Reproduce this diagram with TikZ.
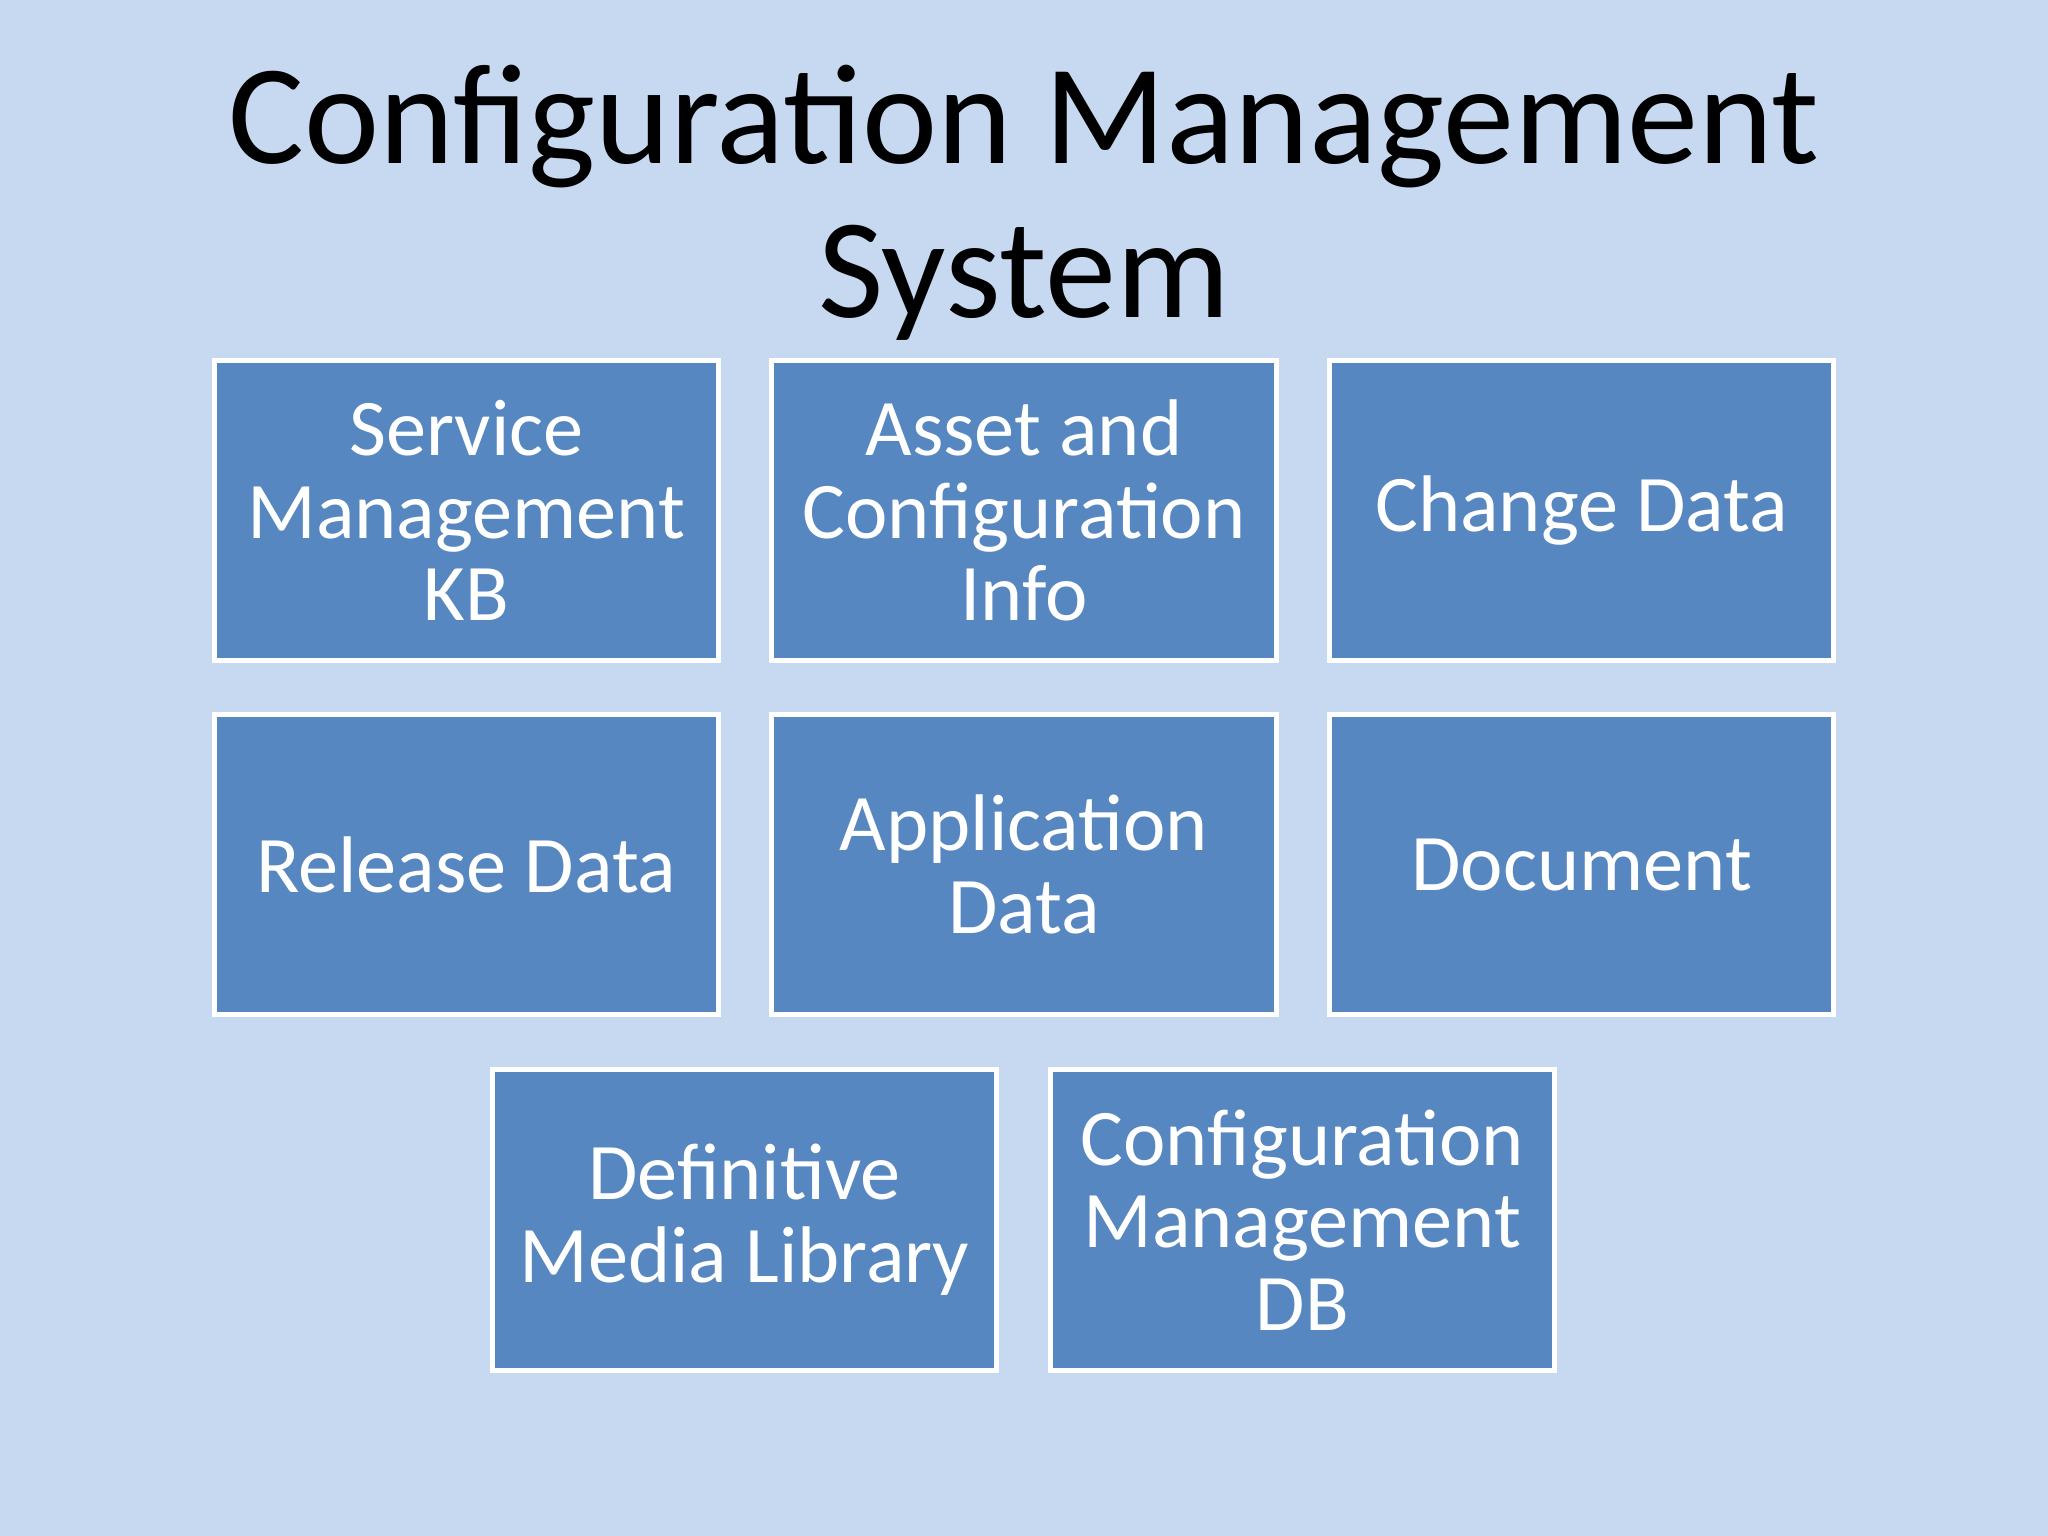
\documentclass[tikz,border=0pt]{standalone}
\usepackage{fontspec}
\setmainfont{Carlito}
\definecolor{bg}{RGB}{198,217,240}
\definecolor{boxc}{RGB}{86,135,192}
\begin{document}
\begin{tikzpicture}[x=0.02cm,y=-0.02cm,
  cell/.style={draw=white,line width=2.2pt,fill=boxc,minimum width=386*0.02cm,minimum height=230*0.02cm,
    text=white,align=center,font=\fontsize{35}{36}\selectfont,inner sep=0pt}]
\fill[bg] (0,0) rectangle (1568,1176);
\node[align=center,font=\fontsize{62}{67}\selectfont] (title) at (784,155) {Configuration Management\\System};
\node[cell] (a) at (357,391) {Service\\Management\\KB};
\node[cell] (b) at (784,391) {Asset and\\Configuration\\Info};
\node[cell] (c) at (1211,391) {Change Data};
\node[cell] (d) at (357,662) {Release Data};
\node[cell] (e) at (784,662) {Application\\Data};
\node[cell] (f) at (1211,662) {Document};
\node[cell] (g) at (570,934) {Definitive\\Media Library};
\node[cell] (h) at (997,934) {Configuration\\Management\\DB};
\end{tikzpicture}
\end{document}
